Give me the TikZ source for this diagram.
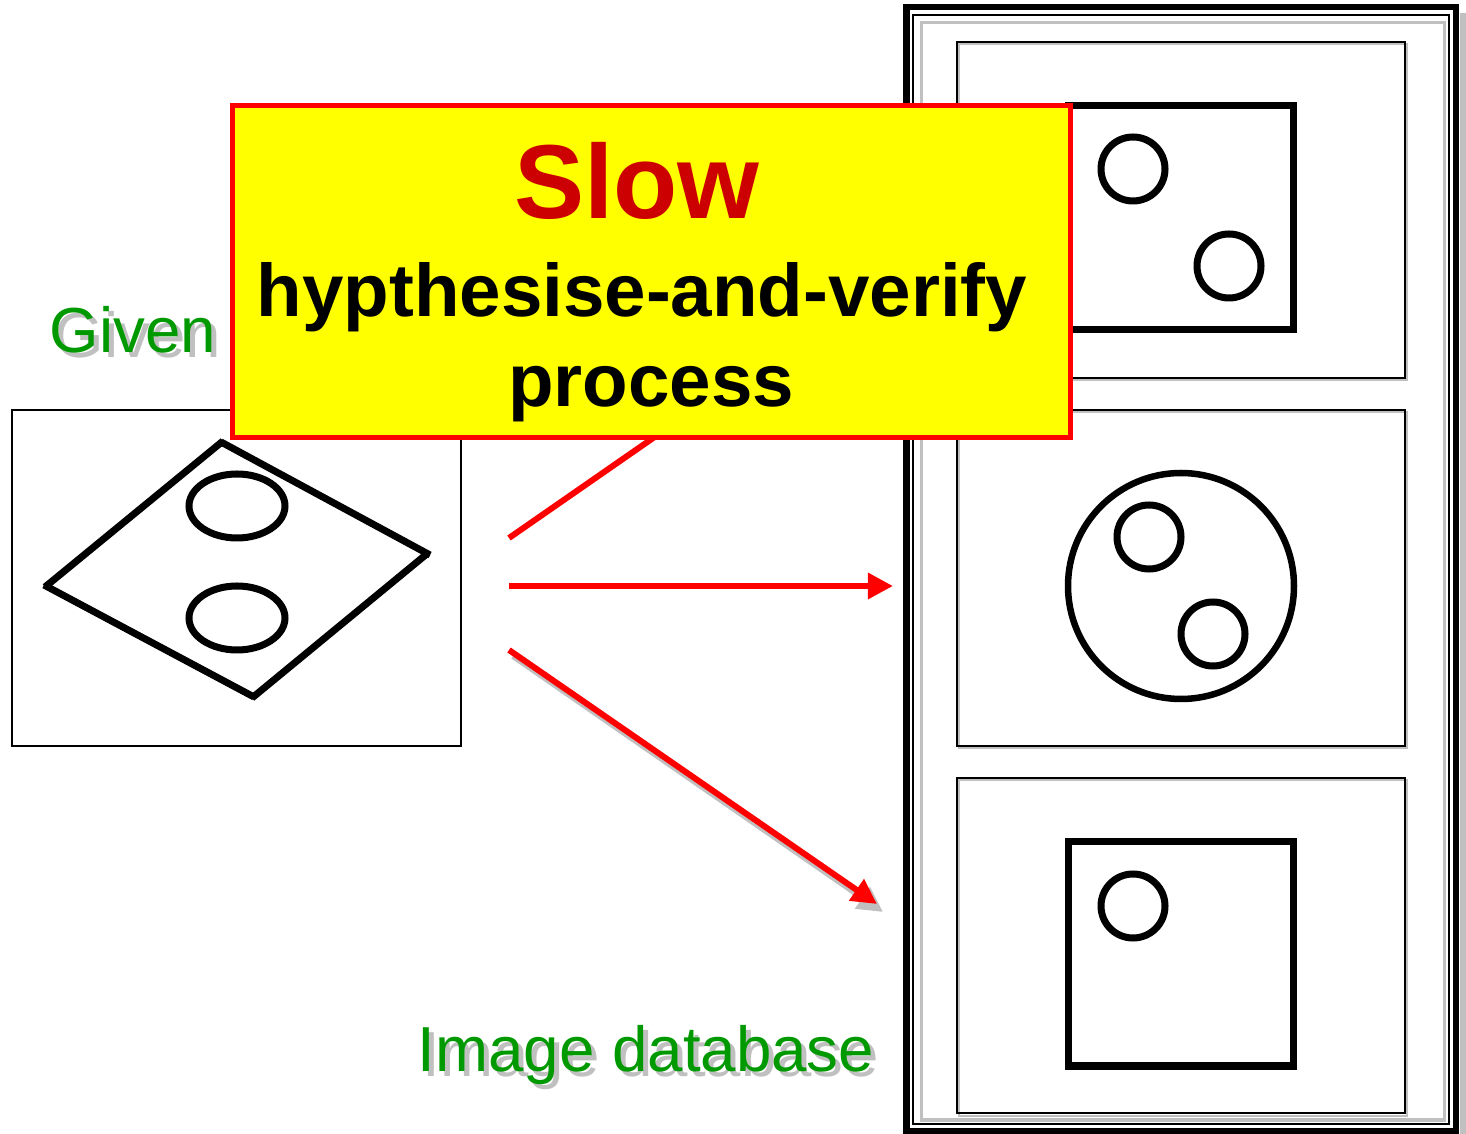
\documentclass[tikz,border=0pt]{standalone}
\usepackage{fontspec}
\setmainfont{Liberation Sans}
\usetikzlibrary{arrows.meta,fit}
\definecolor{dbgreen}{RGB}{0,153,0}
\definecolor{slowred}{RGB}{204,0,0}
\definecolor{shadowgray}{RGB}{192,192,192}
\definecolor{boxyellow}{RGB}{255,255,0}
\definecolor{boxred}{RGB}{255,0,0}
\begin{document}
\begin{tikzpicture}[x=0.01cm,y=-0.01cm,
  thinframe/.style={draw=black,line width=0.022cm,inner sep=0pt},
  glyph/.style={draw=black,line width=0.07cm},
  redarrow/.style={draw=boxred,line width=0.06cm,-{Triangle[length=0.25cm,width=0.25cm]}},
  shadowarrow/.style={draw=shadowgray,line width=0.06cm,-{Triangle[length=0.25cm,width=0.25cm]}},
  labeltext/.style={anchor=base,font=\fontsize{18.1}{20}\selectfont,text=dbgreen,inner sep=0pt},
  labelshadow/.style={anchor=base,font=\fontsize{18.1}{20}\selectfont,text=shadowgray,inner sep=0pt}]
\useasboundingbox (0,0) rectangle (1466,1134);
\fill[white] (0,0) rectangle (1466,1134);

% database frame
\fill[shadowgray] (1460,13) rectangle (1466,1134);
\node[fit={(906.5,7) (1456,1131)},inner sep=0pt,draw=black,line width=0.065cm] (dbframe) {};
\node[fit={(913,15) (1449,1124)},inner sep=0pt,draw=black,line width=0.022cm] (dbinner) {};
\node[fit={(921,23) (1444,1120)},inner sep=0pt,draw=shadowgray,line width=0.03cm] (dbgray) {};

% database images
\foreach \yy in {42,410,778}{
  \draw[shadowgray,line width=0.022cm] (959,\yy+2) rectangle (1407,\yy+338);
}
\node[thinframe,fit={(957,42) (1405,378)}] (db1) {};
\node[thinframe,fit={(957,410) (1405,746)}] (db2) {};
\node[thinframe,fit={(957,778) (1405,1113)}] (db3) {};

% image 1
\draw[glyph] (1068,106) rectangle (1293,329.5);
\draw[glyph] (1133,169) circle[radius=32];
\draw[glyph] (1229,266) circle[radius=32];
% image 2
\draw[glyph,line width=0.065cm] (1181,586) circle[radius=113];
\draw[glyph] (1149,537) circle[radius=32];
\draw[glyph] (1213,634) circle[radius=32];
% image 3
\draw[glyph] (1068,842) rectangle (1293,1066);
\draw[glyph] (1133,906) circle[radius=32];

% given image
\node[thinframe,fit={(12,410) (461,746)}] (given) {};
\draw[glyph] (221,442) -- (430,555);
\draw[glyph] (428,553) -- (252,698);
\draw[glyph] (254,697) -- (44,585);
\draw[glyph] (45,587) -- (223,441);
\draw[glyph] (237,506) ellipse[x radius=48,y radius=32];
\draw[glyph] (237,618) ellipse[x radius=48,y radius=32];

% arrows
\coordinate (a1s) at (509,538);
\coordinate (a1e) at (878,282);
\coordinate (a2s) at (509,586);
\coordinate (a2e) at (893,586);
\coordinate (a3s) at (509,650);
\coordinate (a3e) at (877,904);
\coordinate (a3ss) at (513,656);
\coordinate (a3se) at (883,912);
\draw[shadowarrow] (a3ss) -- (a3se);
\draw[redarrow] (a1s) -- (a1e);
\draw[redarrow] (a2s) -- (a2e);
\draw[redarrow] (a3s) -- (a3e);

% labels
\node[labelshadow] (givenshadow) at (138,358) {Given};
\node[labeltext] (givenlabel) at (133,353) {Given};
\node[labelshadow] (dbshadow) at (651,1077) {Image database};
\node[labeltext] (dblabel) at (646,1072) {Image database};

% yellow box
\node[fit={(232,105.5) (1070,437.5)},inner sep=0pt,draw=boxred,fill=boxyellow,line width=0.05cm] (box) {};
\node[anchor=base,inner sep=0pt,text=slowred,font=\bfseries\fontsize{29.9}{32}\selectfont] (slow) at (637,219) {Slow};
\node[anchor=base,inner sep=0pt,font=\bfseries\fontsize{21.2}{24}\selectfont] (hyp) at (642,317) {hypthesise-and-verify};
\node[anchor=base,inner sep=0pt,font=\bfseries\fontsize{21.2}{24}\selectfont] (proc) at (651,407) {process};
\end{tikzpicture}
\end{document}
